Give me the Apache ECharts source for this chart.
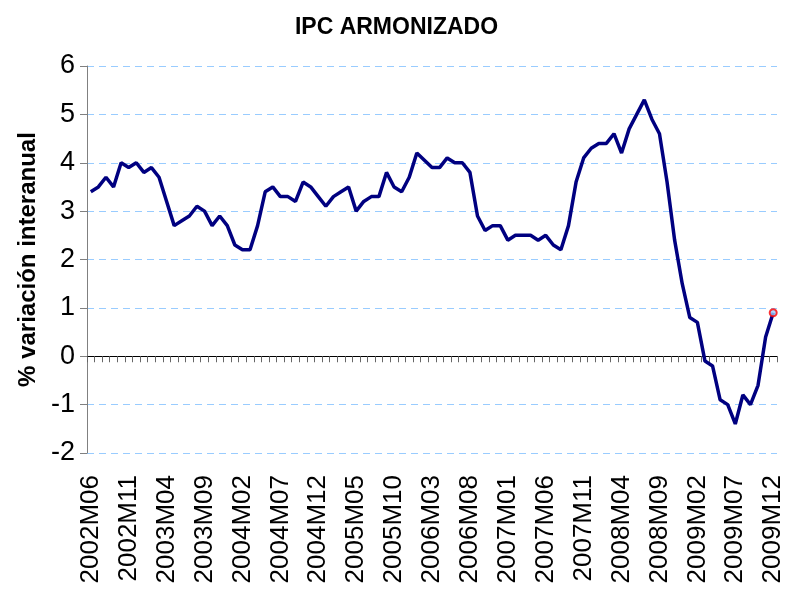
<!DOCTYPE html>
<html>
<head>
<meta charset="utf-8">
<title>IPC armonizado</title>
<script src="https://cdn.jsdelivr.net/npm/echarts@6/dist/echarts.min.js"></script>
<style>
  html, body { margin: 0; padding: 0; background: #fff; }
  #chart { width: 793px; height: 590px; }
</style>
</head>
<body>
<div id="chart"></div>
<script>
// años y meses de la serie (2002M06 .. 2009M12)
const years = [2002, 2003, 2004, 2005, 2006, 2007, 2008, 2009]
const firstMonth = 6

// % variación interanual
const ipca = [
  3.4, 3.5, 3.7, 3.5, 4.0, 3.9, 4.0,
  3.8, 3.9, 3.7, 3.2, 2.7, 2.8, 2.9, 3.1, 3.0, 2.7, 2.9, 2.7,
  2.3, 2.2, 2.2, 2.7, 3.4, 3.5, 3.3, 3.3, 3.2, 3.6, 3.5, 3.3,
  3.1, 3.3, 3.4, 3.5, 3.0, 3.2, 3.3, 3.3, 3.8, 3.5, 3.4, 3.7,
  4.2, 4.05, 3.9, 3.9, 4.1, 4.0, 4.0, 3.8, 2.9, 2.6, 2.7, 2.7,
  2.4, 2.5, 2.5, 2.5, 2.4, 2.5, 2.3, 2.2, 2.7, 3.6, 4.1, 4.3,
  4.4, 4.4, 4.6, 4.2, 4.7, 5.0, 5.3, 4.9, 4.6, 3.6, 2.4, 1.5,
  0.8, 0.7, -0.1, -0.2, -0.9, -1.0, -1.4, -0.8, -1.0, -0.6, 0.4, 0.9
]

// eje vertical
const yMin = -2
const yMax = 6

const months = []
years.forEach(function (y) {
  for (let m = (y === years[0] ? firstMonth : 1); m <= 12; m++) {
    months.push(y + 'M' + (m < 10 ? '0' + m : m))
  }
})

// solo el último punto lleva marcador
const lastPoint = ipca.map(function (v, i) {
  return i === ipca.length - 1 ? v : '-'
})

const font = 'Liberation Sans, Arial, sans-serif'

let myChart = echarts.init(document.getElementById('chart'))
myChart.setOption({
  backgroundColor: '#ffffff',
  animation: false,
  title: {
    text: 'IPC ARMONIZADO',
    left: 'center',
    top: 11,
    textStyle: {
      color: '#000',
      fontFamily: 'Liberation Sans Narrow, Liberation Sans, Arial, sans-serif',
      fontWeight: 'bold',
      fontSize: 23
    }
  },
  grid: {
    left: 87,
    right: 16,
    top: 66,
    bottom: 137,
    containLabel: false
  },
  xAxis: [
    {
      // eje en el cero con las marcas
      type: 'category',
      data: months,
      position: 'bottom',
      boundaryGap: true,
      axisLine: { onZero: true, lineStyle: { color: '#000', width: 1 } },
      axisTick: { show: true, interval: 0, length: 6, lineStyle: { color: '#666' } },
      axisLabel: { show: false },
      splitLine: { show: false }
    },
    {
      // etiquetas abajo
      type: 'category',
      data: months,
      position: 'bottom',
      boundaryGap: true,
      axisLine: { show: false, onZero: false },
      axisTick: { show: false },
      axisLabel: {
        interval: 4,
        rotate: 90,
        margin: 22,
        color: '#000',
        fontFamily: font,
        fontSize: 26
      },
      splitLine: { show: false }
    }
  ],
  yAxis: {
    type: 'value',
    min: yMin,
    max: yMax,
    interval: 1,
    name: '% variación interanual',
    nameLocation: 'middle',
    nameRotate: 90,
    nameGap: 43,
    nameTextStyle: {
      color: '#000',
      fontFamily: font,
      fontWeight: 'bold',
      fontSize: 24
    },
    axisLine: { show: true, lineStyle: { color: '#808080' } },
    axisTick: { show: true, length: 7, lineStyle: { color: '#808080' } },
    axisLabel: {
      color: '#000',
      fontFamily: font,
      fontSize: 27,
      margin: 12
    },
    splitLine: {
      show: true,
      lineStyle: { color: '#99ccff', type: [7, 5], width: 1 }
    }
  },
  series: [
    {
      name: 'IPC armonizado',
      type: 'line',
      xAxisIndex: 0,
      data: ipca,
      symbol: 'none',
      lineStyle: { color: '#000080', width: 3.5 },
      z: 3
    },
    {
      name: 'último dato',
      type: 'scatter',
      xAxisIndex: 0,
      data: lastPoint,
      symbol: 'circle',
      symbolSize: 7,
      itemStyle: { color: '#99ccff', borderColor: '#ff0000', borderWidth: 2 },
      z: 4
    }
  ]
})
</script>
</body>
</html>
